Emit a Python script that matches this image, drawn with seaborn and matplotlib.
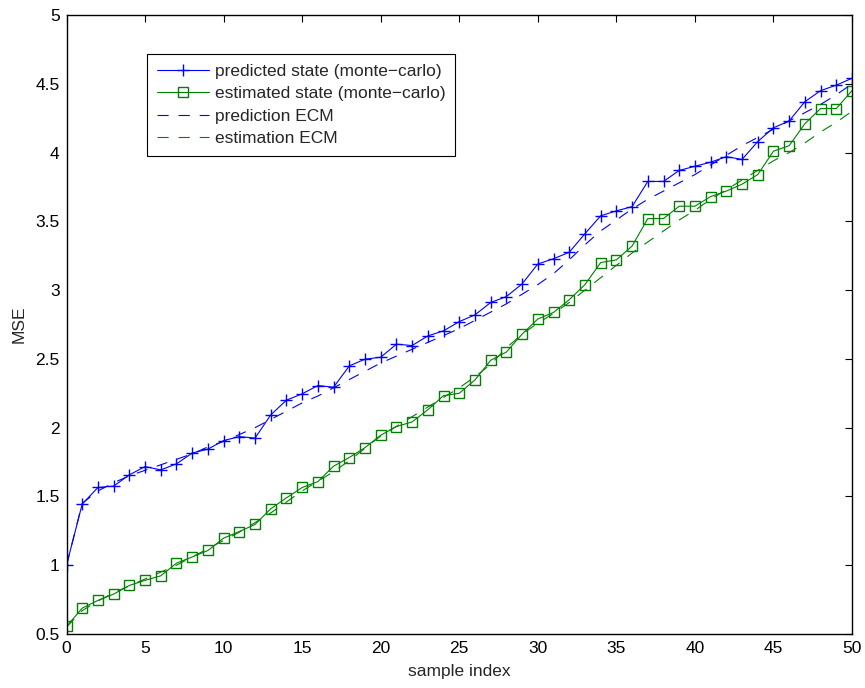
import numpy as np
import pandas as pd
import matplotlib
matplotlib.use("Agg")
import matplotlib.pyplot as plt
import seaborn as sns

sample_index = list(range(51))

predicted_mc = [1.00, 1.445, 1.565, 1.575, 1.657, 1.717, 1.693, 1.737, 1.815, 1.844,
                1.906, 1.935, 1.924, 2.093, 2.200, 2.246, 2.306, 2.294, 2.449, 2.498,
                2.512, 2.607, 2.597, 2.667, 2.704, 2.771, 2.820, 2.910, 2.953, 3.045,
                3.190, 3.228, 3.275, 3.410, 3.540, 3.576, 3.607, 3.790, 3.790, 3.870,
                3.900, 3.930, 3.970, 3.950, 4.080, 4.180, 4.230, 4.370, 4.450, 4.490,
                4.540]

estimated_mc = [0.555, 0.688, 0.744, 0.790, 0.853, 0.890, 0.923, 1.015, 1.060, 1.107,
                1.197, 1.245, 1.296, 1.410, 1.490, 1.565, 1.608, 1.720, 1.783, 1.855,
                1.945, 2.008, 2.042, 2.130, 2.233, 2.250, 2.347, 2.490, 2.550, 2.680,
                2.790, 2.838, 2.930, 3.040, 3.200, 3.220, 3.320, 3.520, 3.520, 3.610,
                3.610, 3.680, 3.720, 3.770, 3.840, 4.010, 4.050, 4.210, 4.320, 4.320,
                4.450]

prediction_ecm = [1.00, 1.45, 1.54, 1.60, 1.65, 1.69, 1.73, 1.77, 1.81, 1.86,
                  1.90, 1.95, 2.00, 2.06, 2.12, 2.18, 2.23, 2.29, 2.35, 2.41,
                  2.47, 2.52, 2.57, 2.62, 2.67, 2.72, 2.78, 2.84, 2.90, 2.97,
                  3.04, 3.12, 3.22, 3.33, 3.43, 3.51, 3.59, 3.66, 3.72, 3.78,
                  3.84, 3.91, 3.98, 4.05, 4.11, 4.17, 4.23, 4.29, 4.35, 4.42,
                  4.50]

estimation_ecm = [0.55, 0.67, 0.74, 0.80, 0.85, 0.90, 0.95, 1.00, 1.06, 1.12,
                  1.18, 1.24, 1.31, 1.38, 1.46, 1.54, 1.61, 1.68, 1.76, 1.85,
                  1.94, 2.01, 2.08, 2.15, 2.22, 2.29, 2.37, 2.46, 2.58, 2.68,
                  2.76, 2.83, 2.91, 3.00, 3.09, 3.18, 3.27, 3.35, 3.43, 3.51,
                  3.58, 3.66, 3.73, 3.80, 3.87, 3.94, 4.00, 4.07, 4.15, 4.22,
                  4.30]

x_ticks = [0, 5, 10, 15, 20, 25, 30, 35, 40, 45, 50]
y_ticks = [0.5, 1, 1.5, 2, 2.5, 3, 3.5, 4, 4.5, 5]
y_tick_labels = ["0.5", "1", "1.5", "2", "2.5", "3", "3.5", "4", "4.5", "5"]

sns.set_style("white")
plt.rcParams['font.family'] = ['Liberation Sans', 'DejaVu Sans']

fig = plt.figure(figsize=(8.65, 6.88), dpi=100)
ax = fig.add_axes([0.0769, 0.0785, 0.9081, 0.8997])

blue = (0, 0, 1)
green = (0, 0.5, 0)
lw = 0.8
dash = (0, (10, 9))

sns.lineplot(x=sample_index, y=predicted_mc, ax=ax, color=blue, lw=lw,
             marker='+', markersize=9, markeredgewidth=1.0,
             markeredgecolor=blue, markerfacecolor=blue,
             label='predicted state (monte\u2212carlo)')
sns.lineplot(x=sample_index, y=estimated_mc, ax=ax, color=green, lw=lw,
             marker='s', markersize=7, markeredgewidth=1.0,
             markerfacecolor='none', markeredgecolor=green,
             label='estimated state (monte\u2212carlo)')
sns.lineplot(x=sample_index, y=prediction_ecm, ax=ax, color=blue, lw=lw,
             linestyle=dash, label='prediction ECM')
sns.lineplot(x=sample_index, y=estimation_ecm, ax=ax, color=green, lw=lw,
             linestyle=dash, label='estimation ECM')

ax.set_xlim(0, 50)
ax.set_ylim(0.5, 5)
ax.set_xticks(x_ticks)
ax.set_yticks(y_ticks)
ax.set_yticklabels(y_tick_labels)
ax.tick_params(direction='in', top=True, right=True, length=5, width=0.8,
               labelsize=12.5, colors='black', pad=5)
for s in ax.spines.values():
    s.set_visible(True)
    s.set_color('black')
    s.set_linewidth(1.0)

ax.set_xlabel('sample index', fontsize=12.5, labelpad=6)
ax.set_ylabel('MSE', fontsize=12.5, labelpad=6)

leg = ax.legend(loc='upper left', bbox_to_anchor=(0.1025, 0.937), fontsize=12.5,
                frameon=True, fancybox=False, edgecolor='black', framealpha=1,
                handlelength=3.0, handletextpad=0.35, borderpad=0.55,
                labelspacing=0.42, numpoints=1, borderaxespad=0)
leg.get_frame().set_linewidth(0.8)

fig.savefig('out.png', dpi=100)
